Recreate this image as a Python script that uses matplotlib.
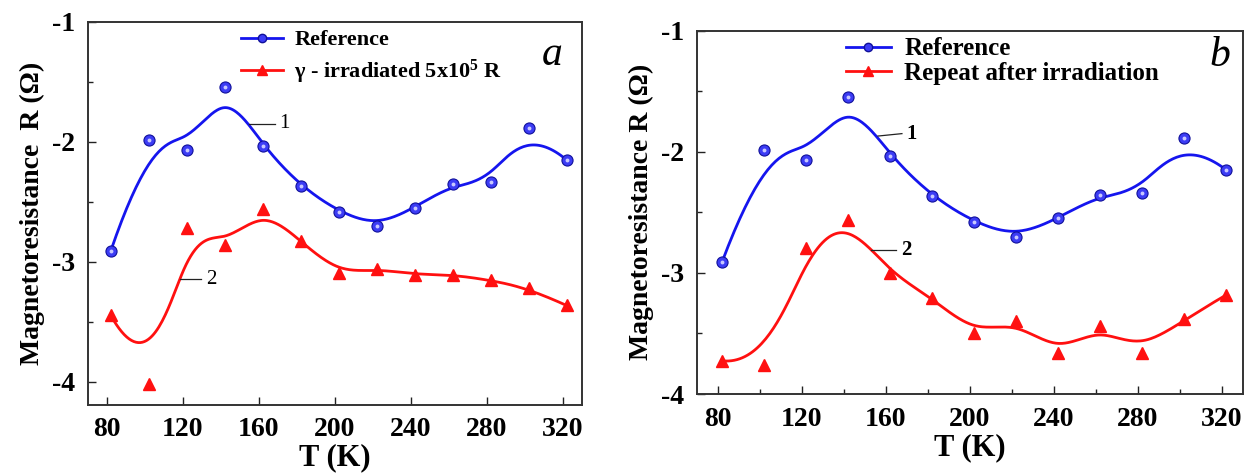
import numpy as np
import matplotlib.pyplot as plt
from matplotlib.ticker import MultipleLocator

plt.rcParams['font.family'] = ['Liberation Serif', 'DejaVu Serif']
plt.rcParams['font.weight'] = 'bold'
plt.rcParams['axes.unicode_minus'] = False
plt.rcParams['mathtext.fontset'] = 'custom'
plt.rcParams['mathtext.rm'] = 'Liberation Serif:bold'
plt.rcParams['mathtext.default'] = 'rm'

# temperature of each measurement (K)
T = [82, 102, 122, 142, 162, 182, 202, 222, 242, 262, 282, 302, 322]

# magnetoresistance (Ohm)
mr_ref = [-2.908, -1.985, -2.064, -1.546, -2.036, -2.369, -2.583,
          -2.701, -2.549, -2.353, -2.338, -1.883, -2.150]
mr_irr = [-3.447, -4.017, -2.722, -2.858, -2.560, -2.828, -3.094,
          -3.058, -3.106, -3.108, -3.153, -3.220, -3.364]
mr_rep = [-3.726, -3.761, -2.792, -2.565, -3.004, -3.204, -3.500,
          -3.396, -3.665, -3.437, -3.662, -3.383, -3.182]


def bspline(px, py, num=400):
    # clamped uniform cubic B-spline using the points as control points
    n = len(px)
    k = 3
    inner = np.arange(1, n - k)
    knots = np.concatenate([[0] * (k + 1), inner, [n - k] * (k + 1)]).astype(float)
    u = np.linspace(0, n - k, num)
    u[-1] -= 1e-9
    N = np.zeros((num, len(knots) - 1))
    for i in range(len(knots) - 1):
        N[:, i] = (knots[i] <= u) & (u < knots[i + 1])
    for d in range(1, k + 1):
        Nn = np.zeros((num, len(knots) - 1 - d))
        for i in range(len(knots) - 1 - d):
            a = knots[i + d] - knots[i]
            b = knots[i + d + 1] - knots[i + 1]
            t1 = (u - knots[i]) / a * N[:, i] if a > 0 else 0
            t2 = (knots[i + d + 1] - u) / b * N[:, i + 1] if b > 0 else 0
            Nn[:, i] = t1 + t2
        N = Nn
    return N @ np.asarray(px, float), N @ np.asarray(py, float)


BLUE = '#1515ee'
RED = '#ff1010'

fig = plt.figure(figsize=(12.47, 4.75), dpi=100)
axa = fig.add_axes([0.0706, 0.1484, 0.3959, 0.8053])
axb = fig.add_axes([0.5589, 0.1705, 0.4379, 0.7649])


def draw(ax, y1, y2, lab2):
    sx, sy = bspline(T, y1)
    ax.plot(sx, sy, color=BLUE, lw=2.0, zorder=2)
    ax.plot(T, y1, 'o', ms=8, mfc='#3c3cf5', mec='#10109a', mew=0.8, zorder=3)
    ax.plot(T, y1, 'o', ms=2.8, mfc='#c8c8ff', mec='none', zorder=4)
    sx, sy = bspline(T, y2)
    ax.plot(sx, sy, color=RED, lw=2.0, zorder=2)
    ax.plot(T, y2, '^', ms=9, mfc=RED, mec=RED, zorder=3)
    ax.plot([], [], color=BLUE, lw=2.0, marker='o', ms=6, mfc='#3c3cf5',
            mec='#10109a', label='Reference')
    ax.plot([], [], color=RED, lw=2.0, marker='^', ms=7, mfc=RED, mec=RED, label=lab2)

    ax.set_xlim(70, 330)
    ax.xaxis.set_major_locator(MultipleLocator(40))
    ax.yaxis.set_major_locator(MultipleLocator(1))
    ax.yaxis.set_minor_locator(MultipleLocator(0.5))
    ax.tick_params(which='both', direction='in', top=False, right=False,
                   labelsize=20, width=1.0, color='#222222', pad=9)
    ax.tick_params(which='major', length=6)
    ax.tick_params(which='minor', length=3.5)
    for s in ax.spines.values():
        s.set_linewidth(1.4)
        s.set_color('#333333')
    ax.set_xlabel('T (K)', fontsize=22, fontweight='bold', labelpad=1)


draw(axa, mr_ref, mr_irr, r'γ - irradiated 5x10$^{5}$ R')
axa.set_ylim(-4.19, -1)
axa.set_yticks([-1, -2, -3, -4])
axa.set_ylabel('Magnetoresistance  R (Ω)', fontsize=20, fontweight='bold', labelpad=5)
axa.legend(loc='upper left', bbox_to_anchor=(0.278, 1.02), frameon=False,
           prop={'size': 16, 'weight': 'bold'}, handlelength=1.9,
           handletextpad=0.5, labelspacing=0.35, borderaxespad=0.3)
axa.text(0.94, 0.915, 'a', transform=axa.transAxes, fontsize=30, style='italic',
         weight='normal', ha='center', va='center')
axa.plot([155, 168.5], [-1.85, -1.85], color='#222222', lw=0.9)
axa.text(170.5, -1.85, '1', fontsize=15, weight='normal', va='center')
axa.plot([118.5, 129.6], [-3.144, -3.144], color='#222222', lw=0.9)
axa.text(132, -3.144, '2', fontsize=15, weight='normal', va='center')

draw(axb, mr_ref, mr_rep, 'Repeat after irradiation')
axb.xaxis.set_minor_locator(MultipleLocator(20))
axb.set_ylim(-4, -1)
axb.set_yticks([-1, -2, -3, -4])
axb.set_ylabel('Magnetoresistance R (Ω)', fontsize=20, fontweight='bold', labelpad=5)
axb.legend(loc='upper left', bbox_to_anchor=(0.24, 1.03), frameon=False,
           prop={'size': 18, 'weight': 'bold'}, handlelength=1.8,
           handletextpad=0.55, labelspacing=0.05, borderaxespad=0.3)
axb.text(0.957, 0.93, 'b', transform=axb.transAxes, fontsize=30, style='italic',
         weight='normal', ha='center', va='center')
axb.plot([156.2, 167.6], [-1.87, -1.85], color='#222222', lw=0.9)
axb.text(169.5, -1.85, '1', fontsize=15, fontweight='bold', va='center')
axb.plot([153, 164.8], [-2.81, -2.81], color='#222222', lw=0.9)
axb.text(167, -2.81, '2', fontsize=15, fontweight='bold', va='center')

for ax in (axa, axb):
    for lbl in ax.get_xticklabels() + ax.get_yticklabels():
        lbl.set_fontweight('bold')

fig.savefig('out.png', dpi=100)
